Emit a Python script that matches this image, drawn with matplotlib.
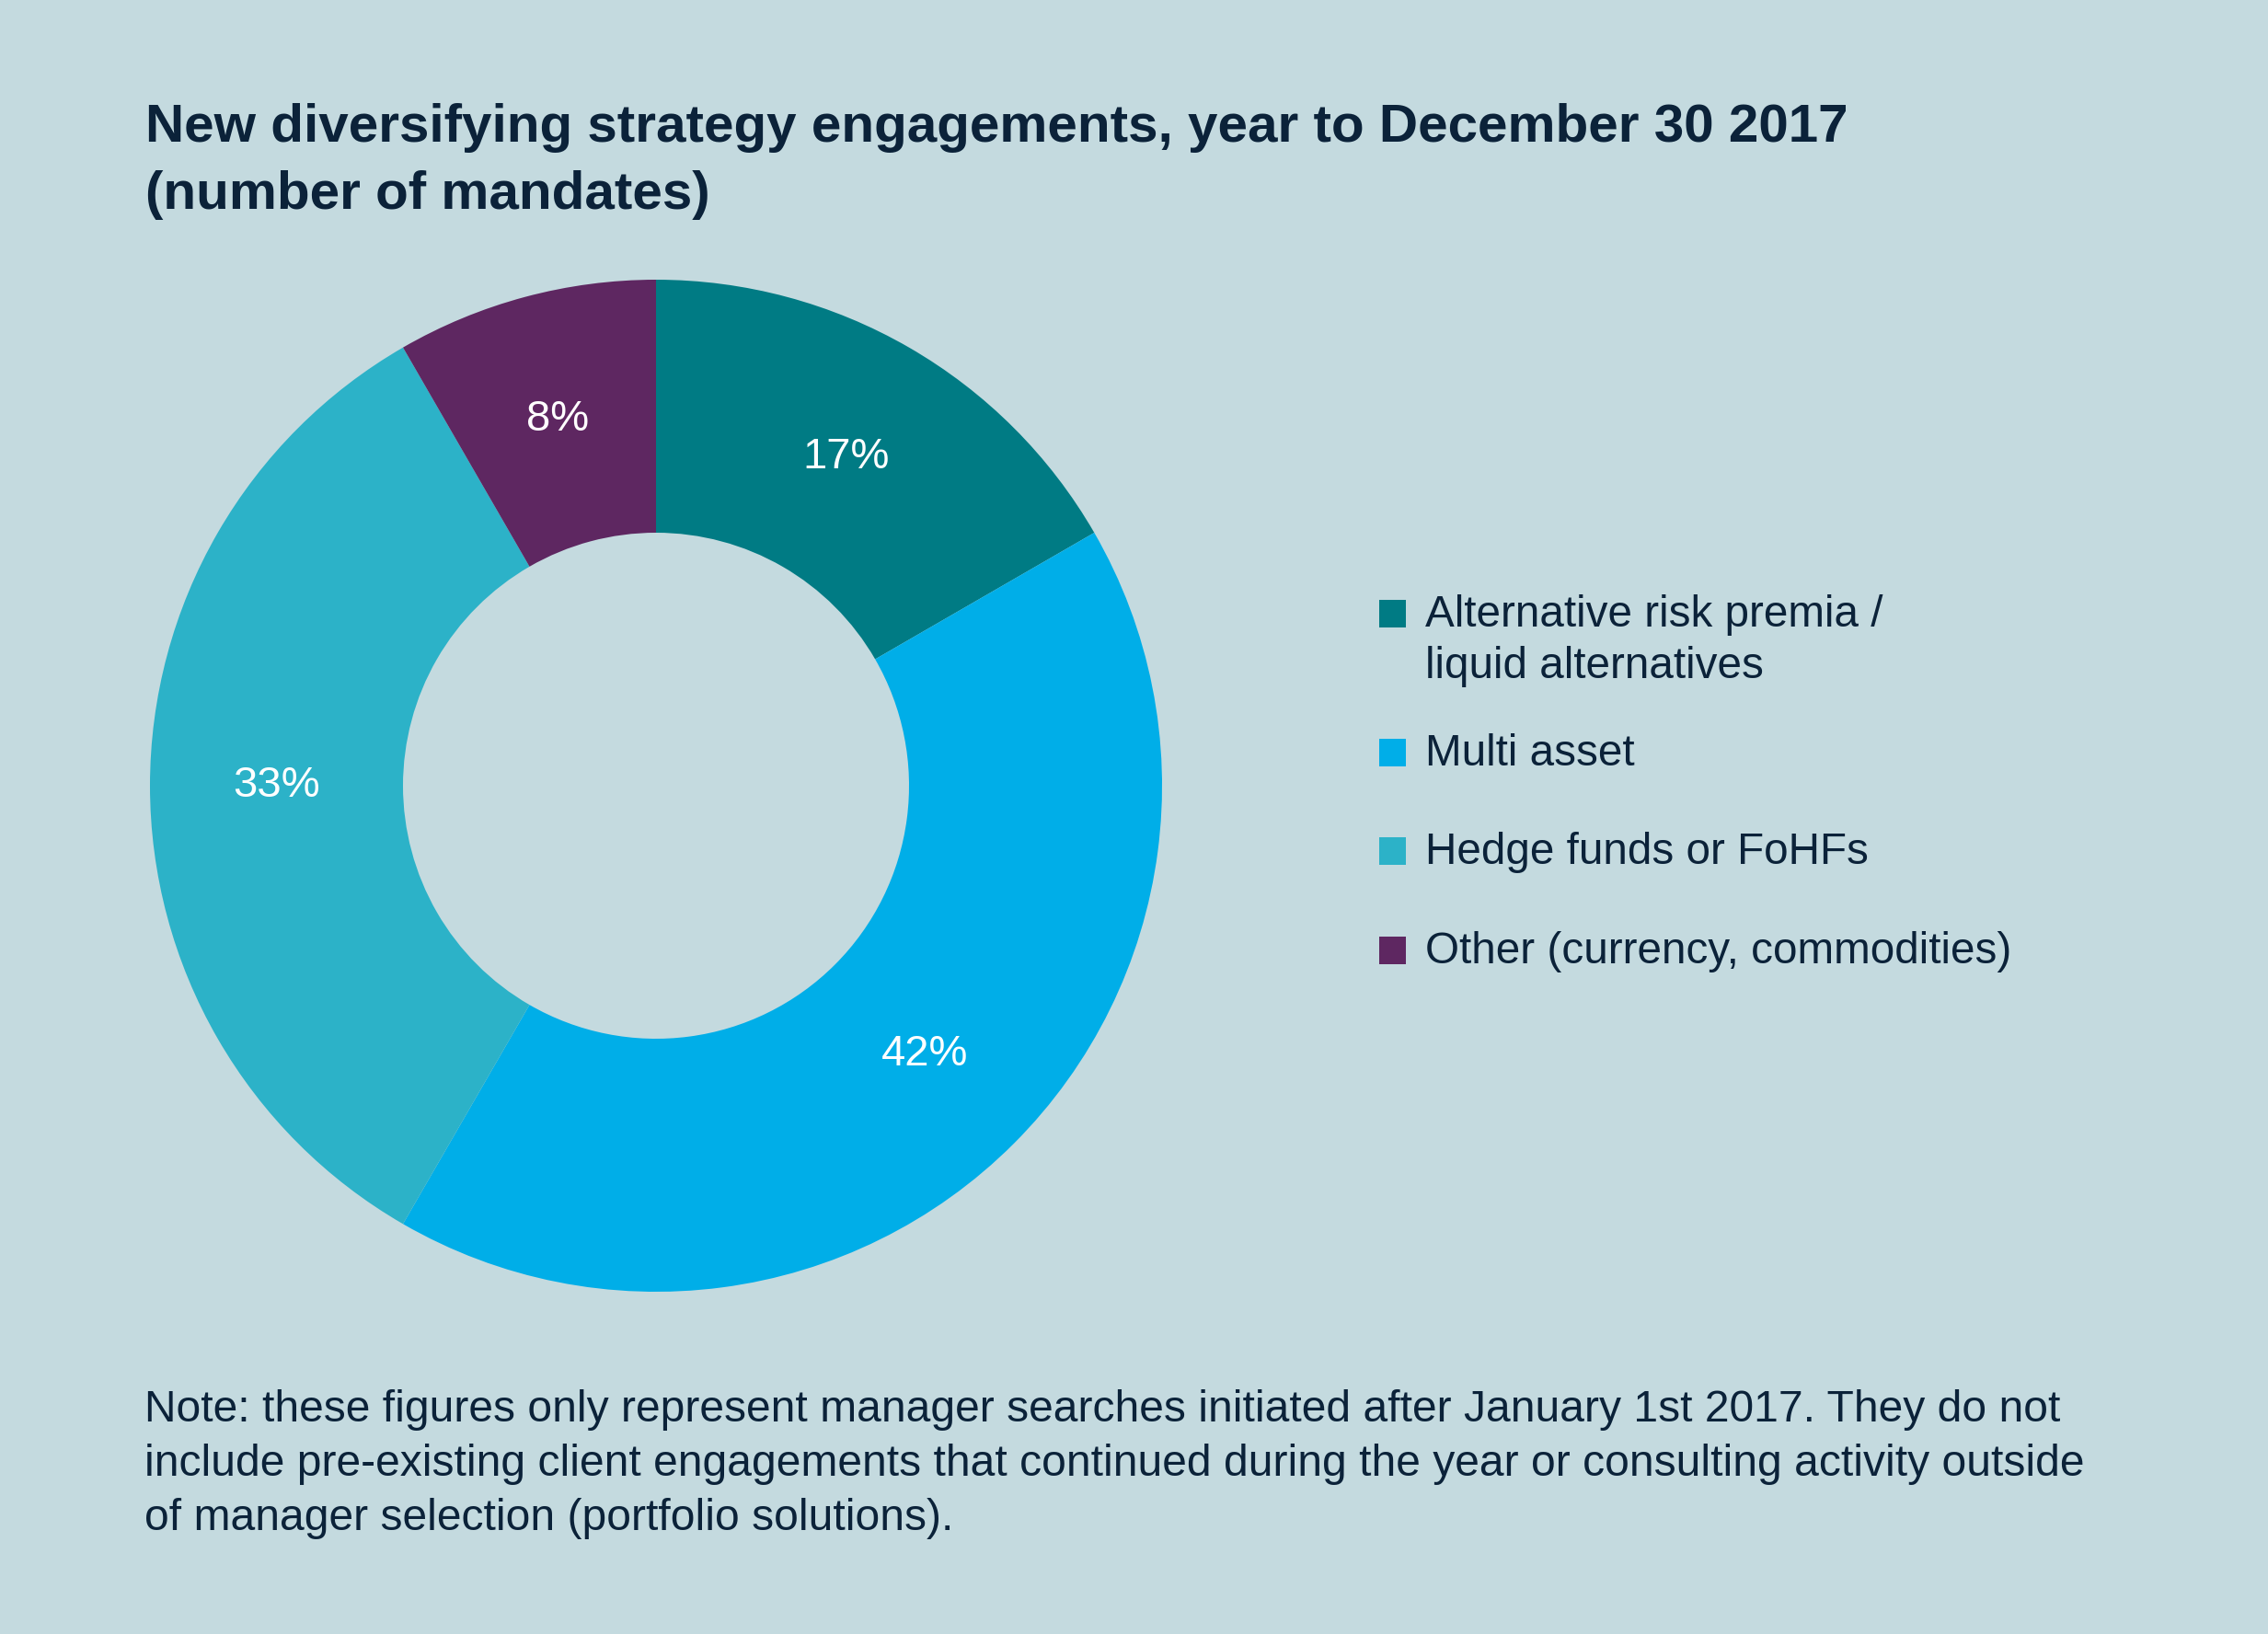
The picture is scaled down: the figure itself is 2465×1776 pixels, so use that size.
import matplotlib
matplotlib.use("Agg")
import matplotlib.pyplot as plt
from matplotlib.patches import Rectangle

# ---- data ----
categories = ["Alternative risk premia /\nliquid alternatives",
              "Multi asset",
              "Hedge funds or FoHFs",
              "Other (currency, commodities)"]
mandates = [2, 5, 4, 1]
colors = ["#007B84", "#00AEE8", "#2CB2C8", "#5E2761"]
title_lines = ["New diversifying strategy engagements, year to December 30 2017",
               "(number of mandates)"]
note_lines = ["Note: these figures only represent manager searches initiated after January 1st 2017. They do not",
              "include pre-existing client engagements that continued during the year or consulting activity outside",
              "of manager selection (portfolio solutions)."]

W, H = 2465, 1776
DPI = 100
BG = "#C4DADF"
TXT = "#0B2239"

plt.rcParams['font.family'] = ['Liberation Sans', 'DejaVu Sans']

fig = plt.figure(figsize=(W / DPI, H / DPI), dpi=DPI, facecolor=BG)

def fx(px):
    return px / W

def fy(py):
    return 1 - py / H

# ---- donut ----
cx, cy, R = 713, 854, 550
ax = fig.add_axes([fx(cx - R), fy(cy + R), 2 * R / W, 2 * R / H])
ax.set_facecolor(BG)
wedges, texts, autotexts = ax.pie(
    mandates, colors=colors, startangle=90, counterclock=False,
    radius=1.0, autopct='%.0f%%', pctdistance=0.75,
    wedgeprops=dict(width=0.5, linewidth=0),
    textprops=dict(color="white", fontsize=34))
ax.set_xlim(-1, 1)
ax.set_ylim(-1, 1)
ax.axis("off")

# ---- title ----
for i, ln in enumerate(title_lines):
    fig.text(fx(158), fy(154 + i * 73), ln, ha="left", va="baseline",
             fontsize=42, fontweight="bold", color=TXT)

# ---- legend (manual) ----
leg_x_sq = 1499
leg_x_txt = 1549
sq_w, sq_h = 29, 30
baselines = [681, 832, 939, 1047]
for cat, col, base in zip(categories, colors, baselines):
    fig.patches.append(Rectangle((fx(leg_x_sq), fy(base + 1)), sq_w / W, sq_h / H,
                                 transform=fig.transFigure, facecolor=col,
                                 edgecolor="none"))
    for i, ln in enumerate(cat.split("\n")):
        fig.text(fx(leg_x_txt), fy(base + i * 56), ln, ha="left",
                 va="baseline", fontsize=34.3, color=TXT)

# ---- note ----
for i, ln in enumerate(note_lines):
    fig.text(fx(157), fy(1545 + i * 59), ln, ha="left", va="baseline",
             fontsize=34.6, color=TXT)

fig.savefig("out.png", dpi=DPI, facecolor=BG)
